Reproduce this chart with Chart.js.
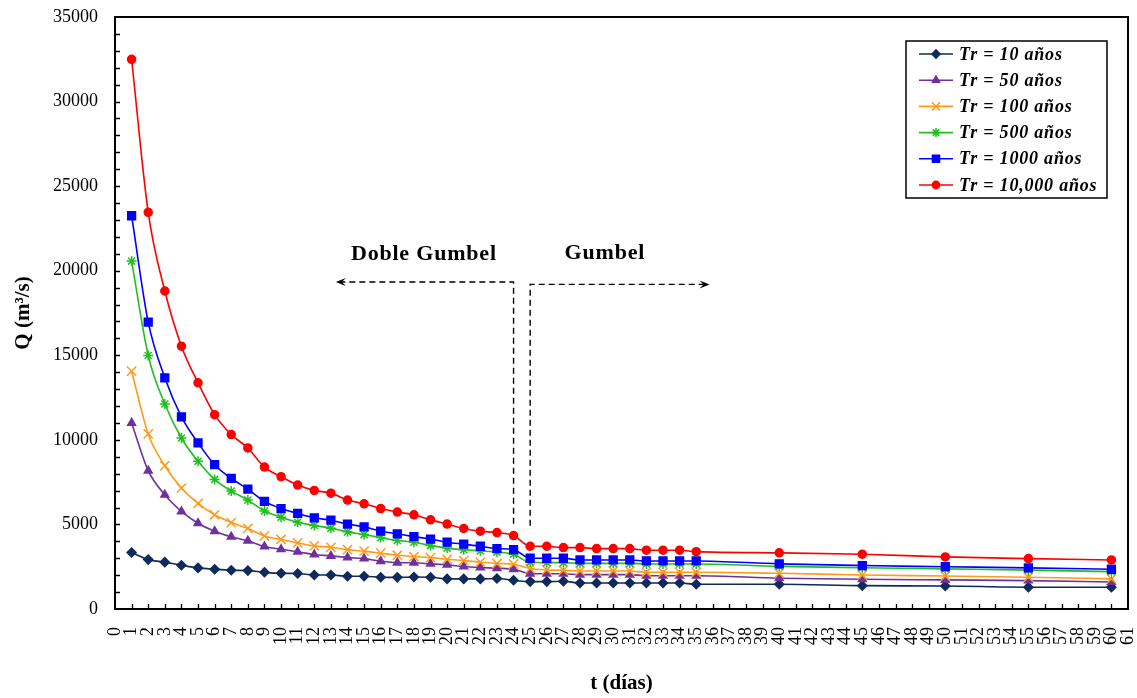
<!DOCTYPE html>
<html><head><meta charset="utf-8">
<script src="https://cdn.jsdelivr.net/npm/chart.js@4/dist/chart.umd.min.js"></script>
<style>html,body{margin:0;padding:0;background:#fff;}</style>
</head><body>
<canvas id="c" width="1137" height="698"></canvas>
<script>
// ---------- DATA ----------
const days = [1,2,3,4,5,6,7,8,9,10,11,12,13,14,15,16,17,18,19,20,21,22,23,24,25,26,27,28,29,30,31,32,33,34,35,40,45,50,55,60];
const tr10 = [3340,2920,2770,2590,2430,2350,2290,2270,2170,2110,2100,2010,2010,1940,1940,1880,1870,1890,1880,1780,1780,1780,1800,1700,1620,1620,1640,1540,1540,1540,1540,1540,1540,1540,1460,1460,1380,1360,1290,1290];
const tr50 = [11000,8180,6750,5770,5070,4600,4270,4030,3690,3530,3380,3220,3140,3040,2980,2830,2740,2730,2670,2610,2510,2450,2410,2350,2090,2080,2080,2030,2030,2030,2030,1970,1970,1970,1970,1820,1760,1720,1680,1600];
const tr100 = [14060,10350,8470,7150,6240,5570,5110,4760,4320,4110,3910,3730,3650,3510,3420,3300,3180,3100,3040,2940,2860,2770,2690,2650,2390,2310,2290,2250,2250,2250,2250,2170,2170,2170,2170,2110,2010,1950,1880,1780];
const tr500 = [20570,14990,12120,10110,8730,7660,6970,6440,5790,5430,5130,4940,4780,4560,4400,4220,4050,3950,3750,3600,3500,3440,3360,3240,2760,2740,2740,2700,2700,2700,2700,2660,2660,2660,2660,2520,2440,2370,2300,2210];
const tr1000 = [23250,16960,13670,11360,9820,8530,7720,7090,6360,5940,5650,5390,5250,5020,4860,4600,4440,4280,4130,3950,3830,3710,3570,3510,3000,3000,3000,2900,2900,2900,2900,2840,2840,2840,2840,2670,2570,2500,2430,2350];
const tr10000 = [32500,23450,18800,15540,13370,11490,10310,9520,8390,7820,7330,7010,6850,6440,6220,5940,5730,5570,5270,5020,4760,4600,4520,4340,3710,3710,3630,3630,3570,3570,3570,3475,3475,3475,3390,3320,3240,3080,2980,2900];
const seriesLabels = ['Tr = 10 años','Tr = 50 años','Tr = 100 años','Tr = 500 años','Tr = 1000 años','Tr = 10,000 años'];
const yTickValues = [0,5000,10000,15000,20000,25000,30000,35000];
const xMin = 0, xMax = 61;
const yTitle = 'Q (m³/s)';
const xTitle = 't (días)';
// annotation anchors in data units
const splitLeftDay = 24, splitRightDay = 25;
const leftArrowEndDay = 13.3, rightArrowEndDay = 35.8;
const leftArrowQ = 19330, rightArrowQ = 19190;
const leftDropQ = 5035, rightDropQ = 4917;
const noteLeft = {text:'Doble Gumbel', day:18.6, q:20970};
const noteRight = {text:'Gumbel', day:29.5, q:21030};

// ---------- STYLES ----------
const styles = [
  {color:'#0f2a5c', pointStyle:'rectRot', radius:4.5},
  {color:'#7030a0', pointStyle:'triangle', radius:4.5},
  {color:'#ff9a1a', pointStyle:'crossRot', radius:6.5},
  {color:'#1fbf1f', pointStyle:'star', radius:5},
  {color:'#0000ff', pointStyle:'rect', radius:5.5},
  {color:'#ff0000', pointStyle:'circle', radius:4}
];
const seriesValues = [tr10, tr50, tr100, tr500, tr1000, tr10000];

const SERIF = '"Liberation Serif", "DejaVu Serif", serif';

const datasets = seriesValues.map((vals, i) => ({
  label: seriesLabels[i],
  data: days.map((d, j) => ({x: d, y: vals[j]})),
  borderColor: styles[i].color,
  backgroundColor: styles[i].color,
  pointStyle: styles[i].pointStyle,
  pointRadius: styles[i].radius,
  pointBorderWidth: 1.5,
  borderWidth: 1.6,
  cubicInterpolationMode: 'monotone',
  fill: false
})).reverse();

const framePlugin = {
  id: 'frame',
  afterDraw(chart) {
    const {ctx, chartArea: a, scales} = chart;
    const xs = scales.x, ys = scales.y;
    ctx.save();
    ctx.strokeStyle = '#000';
    ctx.lineWidth = 1.3;
    ctx.beginPath();
    for (let v = 1000; v < 35000; v += 1000) {
      const py = Math.round(ys.getPixelForValue(v)) + 0.5;
      ctx.moveTo(a.left, py); ctx.lineTo(a.left + 5, py);
    }
    for (let d = xMin + 1; d < xMax; d++) {
      const px = Math.round(xs.getPixelForValue(d)) + 0.5;
      ctx.moveTo(px, a.bottom); ctx.lineTo(px, a.bottom - 5);
    }
    ctx.stroke();
    ctx.lineWidth = 2;
    ctx.strokeRect(a.left, a.top, a.right - a.left, a.bottom - a.top);

    // annotations
    ctx.setLineDash([6, 4]);
    ctx.lineWidth = 1.4;
    const lx = xs.getPixelForValue(splitLeftDay), rx = xs.getPixelForValue(splitRightDay);
    const ly = ys.getPixelForValue(leftArrowQ), ry = ys.getPixelForValue(rightArrowQ);
    const lEnd = xs.getPixelForValue(leftArrowEndDay), rEnd = xs.getPixelForValue(rightArrowEndDay);
    ctx.beginPath();
    ctx.moveTo(lx, ys.getPixelForValue(leftDropQ)); ctx.lineTo(lx, ly); ctx.lineTo(lEnd + 2, ly);
    ctx.moveTo(rx, ys.getPixelForValue(rightDropQ)); ctx.lineTo(rx, ry); ctx.lineTo(rEnd - 2, ry);
    ctx.stroke();
    ctx.setLineDash([]);
    ctx.fillStyle = '#000';
    ctx.beginPath();
    ctx.moveTo(lEnd, ly); ctx.lineTo(lEnd + 10, ly - 4); ctx.lineTo(lEnd + 6, ly); ctx.lineTo(lEnd + 10, ly + 4); ctx.closePath();
    ctx.moveTo(rEnd, ry); ctx.lineTo(rEnd - 10, ry - 4); ctx.lineTo(rEnd - 6, ry); ctx.lineTo(rEnd - 10, ry + 4); ctx.closePath();
    ctx.fill();
    ctx.font = 'bold 22px ' + SERIF;
    ctx.letterSpacing = '0.8px';
    ctx.textAlign = 'center'; ctx.textBaseline = 'middle';
    [noteLeft, noteRight].forEach(n => ctx.fillText(n.text, xs.getPixelForValue(n.day), ys.getPixelForValue(n.q)));

    // legend box
    const bw = 201, bh = 157;
    const bx = a.right - 21 - bw, by = a.top + 24;
    ctx.fillStyle = '#fff';
    ctx.fillRect(bx, by, bw, bh);
    ctx.strokeStyle = '#000'; ctx.lineWidth = 1.5;
    ctx.strokeRect(bx, by, bw, bh);
    ctx.font = 'italic bold 18px ' + SERIF;
    ctx.letterSpacing = '0.8px';
    ctx.textAlign = 'left'; ctx.textBaseline = 'middle';
    seriesLabels.forEach((lab, i) => {
      const yy = by + 13 + i * 26.2;
      const st = styles[i];
      ctx.strokeStyle = st.color; ctx.fillStyle = st.color; ctx.lineWidth = 1.6;
      ctx.beginPath(); ctx.moveTo(bx + 13, yy); ctx.lineTo(bx + 47, yy); ctx.stroke();
      Chart.helpers.drawPoint(ctx, {pointStyle: st.pointStyle, radius: st.radius * 0.9, rotation: 0, borderWidth: 1.5}, bx + 30, yy);
      ctx.fillStyle = '#000';
      ctx.fillText(lab, bx + 53, yy + 1);
    });
    ctx.restore();
  }
};

new Chart(document.getElementById('c'), {
  type: 'line',
  data: {datasets},
  options: {
    responsive: false,
    animation: false,
    devicePixelRatio: 1,
    layout: {padding: {top: 17, right: 9, left: 0, bottom: 0}},
    plugins: {legend: {display: false}, tooltip: {enabled: false}},
    scales: {
      x: {
        type: 'linear', min: xMin, max: xMax,
        grid: {display: false, drawTicks: false}, border: {display: false},
        ticks: {stepSize: 1, autoSkip: false, maxRotation: 90, minRotation: 90, padding: 18,
          color: '#000', font: {family: SERIF, size: 18}, callback: v => String(v)},
        title: {display: true, text: xTitle, color: '#000', font: {family: SERIF, size: 21, weight: 'bold'}, padding: {top: 2, bottom: 2}},
        afterFit: s => { s.height = 89; s.paddingLeft = 0; s.paddingRight = 0; }
      },
      y: {
        min: 0, max: 35000,
        grid: {display: false, drawTicks: false}, border: {display: false},
        afterBuildTicks: s => { s.ticks = yTickValues.map(v => ({value: v})); },
        ticks: {padding: 17, color: '#000', font: {family: SERIF, size: 18}, callback: v => String(v)},
        title: {display: true, text: yTitle, color: '#000', font: {family: SERIF, size: 21, weight: 'bold'}, padding: {top: 11, bottom: 0}},
        afterFit: s => { s.width = 115; s.paddingTop = 0; s.paddingBottom = 0; }
      }
    }
  },
  plugins: [framePlugin]
});
</script>
</body></html>
